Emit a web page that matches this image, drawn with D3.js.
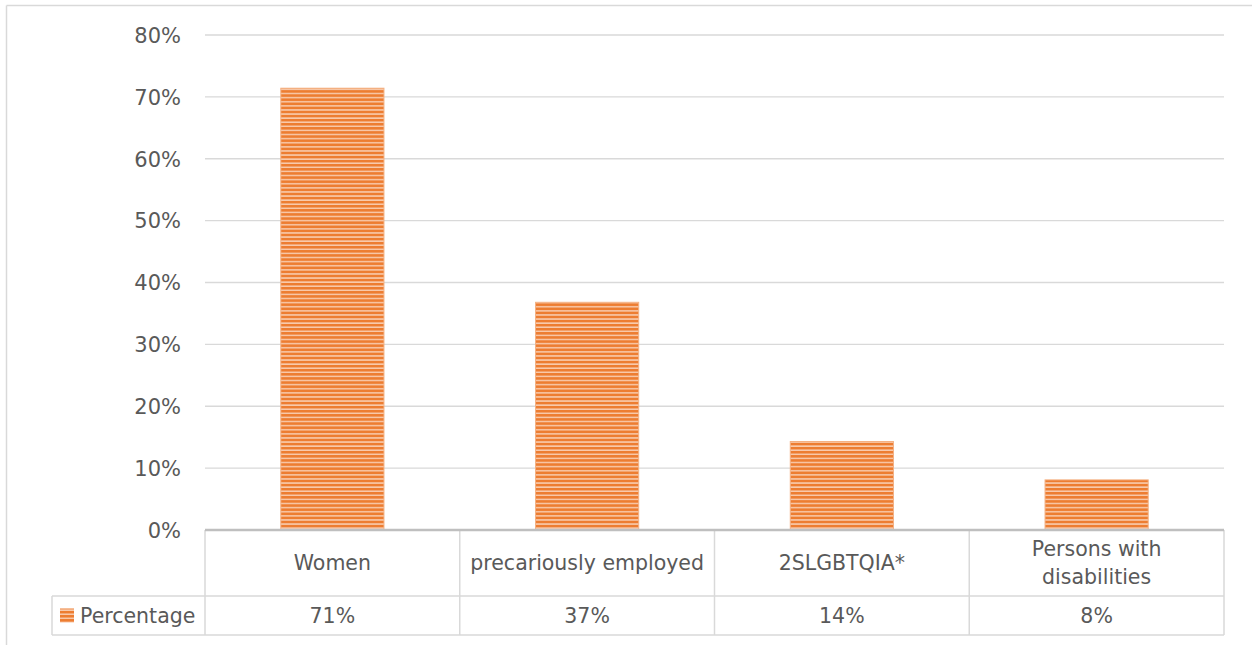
<!DOCTYPE html>
<html>
<head>
<meta charset="utf-8">
<script src="https://cdn.jsdelivr.net/npm/d3@7"></script>
<style>
  body { margin: 0; background: #fff; }
  svg { display: block; font-family: "DejaVu Sans", "Open Sans", sans-serif; }
</style>
</head>
<body>
<svg id="chart" width="1252" height="645"></svg>
<script>
// data
const categories = ["Women", "precariously employed", "2SLGBTQIA*", "Persons with disabilities"]
const categoryLines = [["Women"], ["precariously employed"], ["2SLGBTQIA*"], ["Persons with", "disabilities"]]
const percentages = [0.714, 0.368, 0.143, 0.081]
const valueLabels = ["71%", "37%", "14%", "8%"]
const yTicks = [0, 0.1, 0.2, 0.3, 0.4, 0.5, 0.6, 0.7, 0.8]
const seriesName = "Percentage"

const svg = d3.select("#chart")
const textColor = "#595959"
const gridColor = "#d9d9d9"
const barColor = "#ed7d31"
const fontSize = "20.5px"

// outer chart border (only top and left show)
svg.append("line").attr("x1", 6.5).attr("x2", 1252).attr("y1", 5.5).attr("y2", 5.5)
  .attr("stroke", gridColor).attr("stroke-width", 1.5)
svg.append("line").attr("x1", 6.5).attr("x2", 6.5).attr("y1", 5.5).attr("y2", 645)
  .attr("stroke", gridColor).attr("stroke-width", 1.5)

// stripe pattern for the bars
const defs = svg.append("defs")
const pat = defs.append("pattern").attr("id", "stripes")
  .attr("patternUnits", "userSpaceOnUse").attr("width", 8).attr("height", 4.1)
pat.append("rect").attr("width", 8).attr("height", 4.1).attr("fill", "#f8cbad")
pat.append("rect").attr("width", 8).attr("height", 2.6).attr("fill", barColor)

const plot = {left: 205, right: 1224, top: 35, bottom: 530}

const x = d3.scaleBand().domain(categories).range([plot.left, plot.right]).paddingInner(0).paddingOuter(0)
const y = d3.scaleLinear().domain([0, 0.8]).range([plot.bottom, plot.top])

// gridlines
svg.append("g").selectAll("line").data(yTicks.filter(d => d > 0)).join("line")
  .attr("x1", plot.left).attr("x2", plot.right)
  .attr("y1", d => y(d)).attr("y2", d => y(d))
  .attr("stroke", gridColor).attr("stroke-width", 1.3)

// y axis labels
const yAxis = svg.append("g").attr("transform", `translate(${plot.left - 24},0)`)
  .call(d3.axisLeft(y).tickValues(yTicks).tickFormat(d3.format(".0%")).tickSize(0).tickPadding(0))
yAxis.attr("font-family", null).attr("font-size", null)
yAxis.select(".domain").remove()
yAxis.selectAll("text").attr("fill", textColor).style("font-size", "21px")
  .attr("dy", "0.35em")

// bars
const barW = x.bandwidth() * 0.405
svg.append("g").selectAll("rect").data(percentages).join("rect")
  .attr("x", (d, i) => x(categories[i]) + (x.bandwidth() - barW) / 2)
  .attr("width", barW)
  .attr("y", d => y(d))
  .attr("height", d => y(0) - y(d))
  .attr("fill", "url(#stripes)")
  .attr("stroke", "#f4b183").attr("stroke-width", 1)

// data table
const row1 = {top: plot.bottom, bottom: 596}
const row2 = {top: 596, bottom: 635}
const legendLeft = 52
const tbl = svg.append("g")

// vertical lines of table
const vx = categories.map(c => x(c)).concat([plot.right])
tbl.selectAll("line.v").data(vx).join("line").attr("class", "v")
  .attr("x1", d => d).attr("x2", d => d)
  .attr("y1", row1.top).attr("y2", row2.bottom)
  .attr("stroke", gridColor).attr("stroke-width", 1.5)
// horizontal lines
tbl.append("line").attr("x1", legendLeft).attr("x2", plot.right).attr("y1", row2.top).attr("y2", row2.top)
  .attr("stroke", gridColor).attr("stroke-width", 1.5)
tbl.append("line").attr("x1", legendLeft).attr("x2", plot.right).attr("y1", row2.bottom).attr("y2", row2.bottom)
  .attr("stroke", gridColor).attr("stroke-width", 1.5)
tbl.append("line").attr("x1", legendLeft).attr("x2", legendLeft).attr("y1", row2.top).attr("y2", row2.bottom)
  .attr("stroke", gridColor).attr("stroke-width", 1.5)

// axis baseline
svg.append("line").attr("x1", plot.left).attr("x2", plot.right)
  .attr("y1", y(0)).attr("y2", y(0))
  .attr("stroke", "#bfbfbf").attr("stroke-width", 2.5)

// category labels
const mid1 = (row1.top + row1.bottom) / 2
categoryLines.forEach(function(lines, i){
  const cx = x(categories[i]) + x.bandwidth() / 2
  lines.forEach(function(line, j){
    svg.append("text").attr("x", cx)
      .attr("y", mid1 + (j - (lines.length - 1) / 2) * 28)
      .attr("dy", "0.35em").attr("text-anchor", "middle")
      .attr("fill", textColor).style("font-size", fontSize).text(line)
  })
})

// values
const mid2 = (row2.top + row2.bottom) / 2
svg.append("g").selectAll("text").data(valueLabels).join("text")
  .attr("x", (d, i) => x(categories[i]) + x.bandwidth() / 2)
  .attr("y", mid2).attr("dy", "0.35em").attr("text-anchor", "middle")
  .attr("fill", textColor).style("font-size", fontSize).text(d => d)

// legend key in the table
svg.append("rect").attr("x", 60).attr("y", mid2 - 7).attr("width", 14).attr("height", 14)
  .attr("fill", "url(#stripes)")
svg.append("text").attr("x", 80).attr("y", mid2).attr("dy", "0.35em")
  .attr("fill", textColor).style("font-size", fontSize).text(seriesName)
</script>
</body>
</html>
